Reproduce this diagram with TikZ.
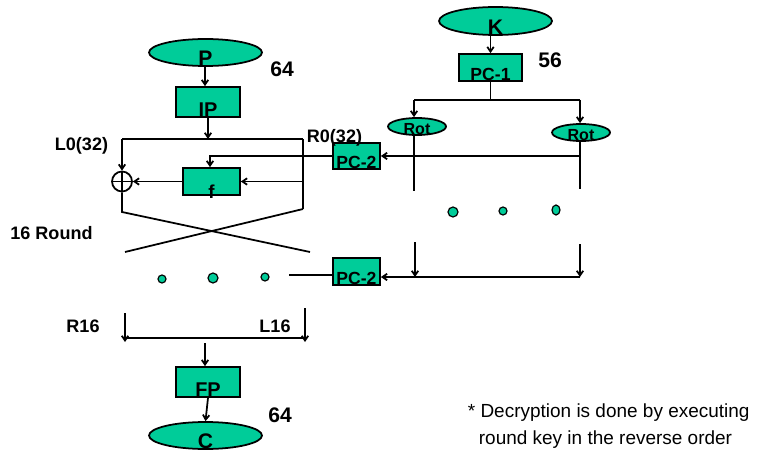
\documentclass[tikz,border=0pt]{standalone}
\usepackage{fontspec}
\setmainfont{Liberation Sans}
\usetikzlibrary{shapes.geometric,arrows.meta}
\definecolor{desgreen}{RGB}{0,204,153}
\begin{document}
\begin{tikzpicture}[x=0.03cm, y=-0.03cm, line width=1.5pt,
	box/.style={draw, fill=desgreen, inner sep=0pt},
	oval/.style={draw, ellipse, fill=desgreen, inner sep=0pt},
	txt/.style 2 args={label={[anchor=base, label distance=-1pt, inner sep=0pt, font=\bfseries\fontsize{#1}{#1}\selectfont]south:#2}},
	arr/.style={-{Straight Barb[length=4pt,width=5.5pt]}},
	bits/.style={anchor=base, inner sep=0pt, font=\bfseries\fontsize{18}{18}\selectfont},
	tag/.style={anchor=base, inner sep=0pt, font=\bfseries\fontsize{15.4}{15.4}\selectfont},
	rdot/.style={circle, draw, fill=desgreen, inner sep=0pt, line width=1pt, minimum size=0.24cm}]
	\useasboundingbox (0,0) rectangle (763,455);

	% data path
	\node[oval, minimum width=3.39cm, minimum height=0.81cm, txt={18}{P}] (P) at (205.5,52.5) {};
	\node[box, minimum width=1.92cm, minimum height=0.9cm, txt={17}{IP}] (IP) at (208,102) {};
	\node[box, minimum width=1.71cm, minimum height=0.81cm, label={[anchor=base, label distance=2.5pt, inner sep=0pt, font=\bfseries\fontsize{16}{16}\selectfont]south:f}] (f) at (211.5,181.5) {};
	\node[circle, draw, inner sep=0pt, minimum size=0.6cm] (xor) at (122,181.5) {};
	\draw (xor.north) -- (xor.south) (xor.west) -- (xor.east);
	\node[box, minimum width=1.92cm, minimum height=0.9cm, txt={17}{FP}] (FP) at (208,382) {};
	\node[oval, minimum width=3.39cm, minimum height=0.81cm, txt={18}{C}] (C) at (205.5,435.5) {};

	% key path
	\node[oval, minimum width=3.39cm, minimum height=0.84cm, txt={18}{K}] (K) at (495.5,21) {};
	\node[box, minimum width=1.89cm, minimum height=0.81cm, txt={15}{PC-1}] (PC1) at (490.5,67.5) {};
	\node[oval, minimum width=1.74cm, minimum height=0.51cm, txt={13.7}{Rot}] (rotL) at (417,126.5) {};
	\node[oval, minimum width=1.74cm, minimum height=0.51cm, txt={13.7}{Rot}] (rotR) at (581,132.5) {};
	\node[box, minimum width=1.41cm, minimum height=0.78cm, txt={15}{PC-2}] (pcA) at (356.5,156) {};
	\node[box, minimum width=1.41cm, minimum height=0.81cm, txt={15}{PC-2}] (pcB) at (356.5,271.5) {};

	% labels
	\node[bits] (b64a) at (282,77) {64};
	\node[bits] (b56) at (550,68) {56};
	\node[bits] (b64b) at (280,422) {64};
	\node[tag] (L0) at (81.5,151) {L0(32)};
	\node[tag] (R0) at (334.5,143) {R0(32)};
	\node[tag] (rnd) at (51.5,239) {16 Round};
	\node[tag] (R16) at (83,332) {R16};
	\node[tag] (L16) at (275,332) {L16};
	\node[anchor=base west, inner sep=0pt, font=\fontsize{16.2}{16.2}\selectfont] (note1) at (467,417) {* Decryption is done by executing};
	\node[anchor=base west, inner sep=0pt, font=\fontsize{16.2}{16.2}\selectfont] (note2) at (478,444) {round key in the reverse order};

	% round
	\coordinate (Ltop) at (122,139);
	\coordinate (Rtop) at (303,139);
	\coordinate (Lbot) at (122,212);
	\coordinate (Rbot) at (303,209);
	\coordinate (Xr) at (310,252);
	\coordinate (Xl) at (125,252);
	\draw[arr] (P.south -| 205,0) -- (IP.north -| 205,0);
	\draw[arr] (IP.south) -- (IP.south |- Ltop);
	\draw (Ltop) -- (Rtop);
	\draw[arr] (Ltop) -- (xor.north);
	\draw (Rtop) -- (Rbot);
	\draw[arr] (Rtop |- f.east) -- (f.east);
	\draw[arr] (f.west) -- (xor.east);
	\draw[arr] (pcA.west) -| (210,0 |- f.north);
	\draw (xor.south) -- (Lbot) -- (Xr);
	\draw (Rbot) -- (Xl);

	\node[rdot] (d1) at (162,279) {};
	\node[rdot, minimum size=0.3cm] (d2) at (213,278) {};
	\node[rdot] (d3) at (265,277) {};
	\coordinate (dend) at (289,275);
	\draw (dend) -- (dend -| pcB.west);

	% key schedule
	\coordinate (kL) at (414,100);
	\coordinate (kR) at (580,100);
	\draw[arr] (PC1.north |- K.south) -- (PC1.north);
	\draw (PC1.south) -- (PC1.south |- kL);
	\draw (kL) -- (kR);
	\draw[arr] (kL) -- (kL |- rotL.north);
	\draw[arr] (kR) -- (kR |- rotR.north);
	\draw (rotL.south -| kL) -- (414,191);
	\draw (rotR.south -| kR) -- (580,189);
	\coordinate (kA) at (580,156);
	\draw[arr] (kA) -- (pcA.east);

	\node[rdot, minimum size=0.3cm] (d4) at (453,212) {};
	\node[rdot] (d5) at (503,211) {};
	\node[rdot, ellipse, minimum width=0.24cm, minimum height=0.3cm] (d6) at (556,210) {};

	\coordinate (kBl) at (415,277);
	\coordinate (kBr) at (580,277);
	\draw[arr] (415,242) -- (kBl);
	\draw[arr] (580,244) -- (kBr);
	\draw[arr] (kBr) -- (kBr -| pcB.east);

	% output
	\coordinate (oL) at (125,313);
	\coordinate (oR) at (305,308);
	\draw[arr] (oL) -- (125,342);
	\draw[arr] (oR) -- (305,342);
	\draw (123,338) -- (305,338);
	\coordinate (fpin) at (205,343);
	\draw[arr] (fpin) -- (fpin |- FP.north);
	\draw[arr] (FP.south) -- (C.north);
\end{tikzpicture}
\end{document}
